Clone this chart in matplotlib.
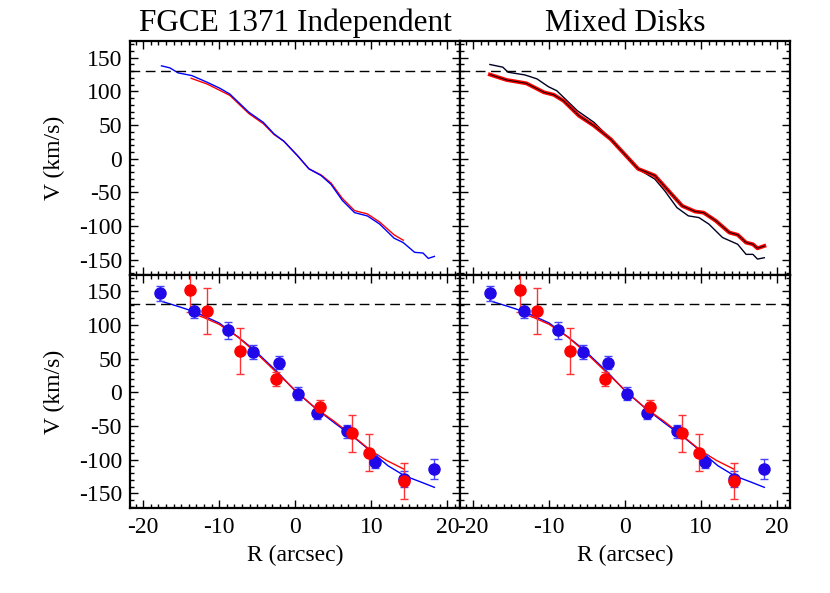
import matplotlib
matplotlib.use('Agg')
import matplotlib.pyplot as plt
from matplotlib.ticker import MultipleLocator

plt.rcParams['font.family'] = ['Liberation Serif', 'DejaVu Serif']
plt.rcParams['axes.unicode_minus'] = False

# top panels: velocity curves
r_blue_ind = [-17.6, -16.5, -15.4, -13.6, -11.6, -9.9, -8.6, -6.1, -4.2, -2.8, -1.5, 0.3, 1.8,
              3.4, 4.7, 6.2, 7.8, 9.5, 11.1, 13.0, 14.2, 15.7, 16.8, 17.5, 18.3]
v_blue_ind = [138, 135, 127.5, 123.5, 113.6, 104.6, 96, 69, 54, 37, 26, 4.5, -15,
              -25, -38, -62, -80, -85, -97, -118, -124.5, -139, -140, -148, -145]
r_red_ind = [-13.7, -11.6, -9.9, -8.6, -6.1, -4.2, -2.8, -1.5, 0.3, 1.8, 3.4, 4.7, 6.2,
             7.8, 9.5, 11.1, 13.0, 14.2]
v_red_ind = [119.5, 111, 101.5, 94, 67, 52, 36, 26, 4.5, -15, -24, -36, -59,
             -77, -82, -94, -113, -121]

r_black_mix = [-17.8, -16.1, -15.4, -13.2, -11.6, -10.1, -9.0, -6.3, -4.1, -1.9, -0.1, 1.7,
               3.9, 5.2, 6.8, 8.3, 9.7, 11.0, 12.8, 14.8, 15.9, 16.8, 17.4, 18.3]
v_black_mix = [140, 136, 128.5, 124.5, 118.6, 107, 101, 71.4, 54, 29.3, 7, -15.3,
               -30.2, -47.6, -72.5, -84.8, -87.4, -97, -117, -127, -142, -142, -149, -147]
r_red_mix = [-17.8, -15.6, -13.0, -10.7, -9.4, -8.1, -6.1, -4.1, -1.9, -0.1, 1.7, 3.9,
             5.7, 7.5, 9.2, 10.3, 11.9, 13.7, 14.8, 15.9, 16.8, 17.4, 18.3]
v_red_mix = [125, 117, 112, 98.7, 95, 86, 64, 49, 29, 7, -15, -25,
             -47.6, -70, -78.4, -80, -92, -109.6, -113, -124.5, -127, -133, -129.5]

# bottom panels: binned points and fits
r_blue_pts = [-17.8, -13.3, -8.8, -5.5, -2.2, 0.3, 2.9, 6.8, 10.5, 14.3, 18.3]
v_blue_pts = [147, 121, 92, 60, 44, -2, -30, -58, -103, -129, -114]
e_blue_pts = [11, 11, 12, 10, 10, 9.5, 9.5, 10, 10, 12, 15]

r_red_pts = [-13.9, -11.6, -7.3, -2.6, 3.2, 7.45, 9.7, 14.3]
v_red_pts = [152, 120.5, 61, 20, -22.4, -61, -89.3, -132]
e_red_pts = [33, 34.5, 34, 10.5, 10.5, 27, 27, 27]

r_blue_fit = [-17.8, -15.5, -13.3, -10, -7.5, -5.5, -2.5, 0, 2.5, 5, 7.75, 10, 12.2, 14.4, 16.5, 18.3]
v_blue_fit = [136, 128, 120, 103, 82, 64, 32, 2, -22, -44, -67, -88, -109, -124, -133, -141]
r_red_fit = [-13.9, -12, -10, -7.5, -5, -2.5, 0, 2.5, 5, 7.5, 10, 12, 14.3]
v_red_fit = [119, 111, 101, 82, 57, 30, 3, -22, -42, -64, -87, -101, -114]

v_limit = 131
titles = ['FGCE 1371 Independent', 'Mixed Disks']

fig, axes = plt.subplots(2, 2, figsize=(8.3, 5.93), dpi=100, sharex=True, sharey=True)
fig.subplots_adjust(left=0.157, right=0.952, top=0.931, bottom=0.143, wspace=0, hspace=0)

ax = axes[0, 0]
ax.plot(r_red_ind, v_red_ind, color='red', lw=1)
ax.plot(r_blue_ind, v_blue_ind, color='blue', lw=1)

ax = axes[0, 1]
ax.plot(r_black_mix, v_black_mix, color='#000022', lw=1)
ax.plot(r_red_mix, v_red_mix, color='red', lw=2.8)
ax.plot(r_red_mix, v_red_mix, color='black', lw=0.7)

for ax in axes[1]:
    ax.plot(r_blue_fit, v_blue_fit, color='blue', lw=1)
    ax.plot(r_red_fit, v_red_fit, color='red', lw=1)
    ax.errorbar(r_blue_pts, v_blue_pts, yerr=e_blue_pts, fmt='o', color='#2008e8',
                ecolor='#4444ff', ms=8, elinewidth=1, capsize=3, capthick=1)
    ax.errorbar(r_red_pts, v_red_pts, yerr=e_red_pts, fmt='o', color='red',
                ecolor='#ff3333', ms=8, elinewidth=1, capsize=3, capthick=1)

for i, ax in enumerate(axes.flat):
    ax.axhline(v_limit, color='black', ls=(0, (7, 4)), lw=1)
    ax.set_xlim(-21.7, 21.7)
    ax.set_ylim(-172, 175)
    ax.xaxis.set_major_locator(MultipleLocator(10))
    ax.xaxis.set_minor_locator(MultipleLocator(1))
    ax.yaxis.set_major_locator(MultipleLocator(50))
    ax.yaxis.set_minor_locator(MultipleLocator(10))
    ax.tick_params(which='both', direction='in', top=True, right=True, labelsize=17)
    ax.tick_params(axis='y', pad=6)
    ax.tick_params(axis='x', pad=6)
    ax.tick_params(which='major', length=6, width=1)
    ax.tick_params(which='minor', length=3, width=1)
    for s in ax.spines.values():
        s.set_linewidth(1.6)

for j in range(2):
    axes[0, j].set_title(titles[j], fontsize=22.5, pad=7)
    axes[1, j].set_xlabel('R (arcsec)', fontsize=17, labelpad=5)
    axes[j, 0].set_ylabel('V (km/s)', fontsize=17, labelpad=10)

fig.savefig('out.png', dpi=100)
